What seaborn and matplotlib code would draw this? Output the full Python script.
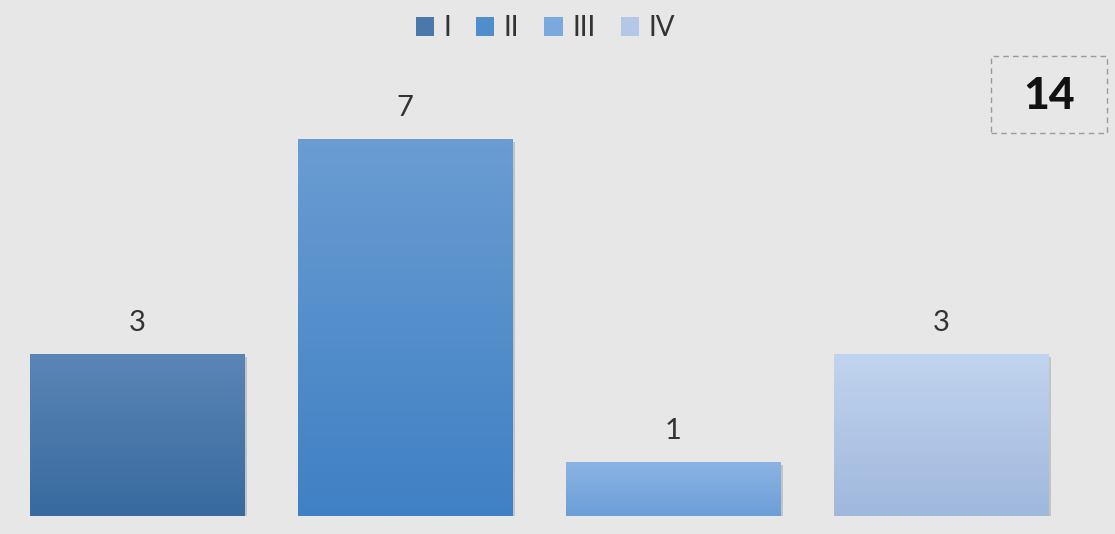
import numpy as np
import pandas as pd
import seaborn as sns
import matplotlib.pyplot as plt
import matplotlib.patheffects as pe
from matplotlib.colors import to_rgb
from matplotlib.patches import Rectangle

categories = ["I", "II", "III", "IV"]
values = [3, 7, 1, 3]
total_label = "14"

# gradient colours per bar (top, bottom)
top_colors = ["#5b85b6", "#6a9dd2", "#8cb3e3", "#c1d4ef"]
bottom_colors = ["#386a9f", "#3f80c4", "#6c9fd8", "#9fb8dc"]
mid_colors = ["#4a78ab", "#4f8dcc", "#7aa9de", "#b3c8e6"]

bg = "#e7e7e7"
sns.set_theme(style="white", rc={"axes.facecolor": bg, "figure.facecolor": bg})
plt.rcParams["font.family"] = ["Lato", "DejaVu Sans"]

df = pd.DataFrame({"cat": categories, "val": values})

fig = plt.figure(figsize=(11.15, 5.34), dpi=100)
ax = fig.add_axes([0.0027, 0.0337, 0.9617, 0.9663])
sns.barplot(data=df, x="cat", y="val", hue="cat", palette=mid_colors,
            width=0.8, ax=ax, legend=True, saturation=1, linewidth=0)

ax.set_ylim(0, 9.58)
ax.set_xlim(-0.5, 3.5)
for s in ax.spines.values():
    s.set_visible(False)
ax.set_xticks([])
ax.set_yticks([])
ax.set_xlabel("")
ax.set_ylabel("")

# gradient fill clipped to each bar
bars = [p for c in ax.containers for p in c]
for i, bar in enumerate(bars):
    bar.set_path_effects([pe.SimplePatchShadow(offset=(2, -2), shadow_rgbFace="black",
                                               alpha=0.15), pe.Normal()])
    x0, y0 = bar.get_x(), bar.get_y()
    w, h = bar.get_width(), bar.get_height()
    t = np.array(to_rgb(top_colors[i]))
    b = np.array(to_rgb(bottom_colors[i]))
    frac = np.linspace(0, 1, 256)[:, None]
    grad = (t * (1 - frac) + b * frac)[:, None, :]
    im = ax.imshow(grad, extent=[x0, x0 + w, y0, y0 + h], aspect="auto",
                   origin="upper", zorder=bar.get_zorder() + 0.1)
    im.set_clip_path(bar)

for c in ax.containers:
    ax.bar_label(c, padding=13, fontsize=21, color="#333333")

sns.move_legend(ax, "center", bbox_to_anchor=(0.489, 0.947),
                bbox_transform=fig.transFigure, ncol=4, frameon=False,
                title=None, fontsize=20, handlelength=0.65, handleheight=0.65,
                handletextpad=0.35, columnspacing=0.9, labelcolor="#333333")
for h in ax.get_legend().legend_handles:
    h.set_edgecolor("none")

# total box
fig.patches.append(Rectangle((991 / 1115, 1 - 133 / 534), 116 / 1115, 77 / 534,
                             transform=fig.transFigure, fill=False,
                             edgecolor="#9a9a9a", linestyle=(0, (4, 3)), lw=1))
fig.text(1049 / 1115, 1 - 96 / 534, total_label, ha="center", va="center",
         fontsize=32, fontweight="black", color="#111111")

fig.savefig("out.png", dpi=100, facecolor=bg)
